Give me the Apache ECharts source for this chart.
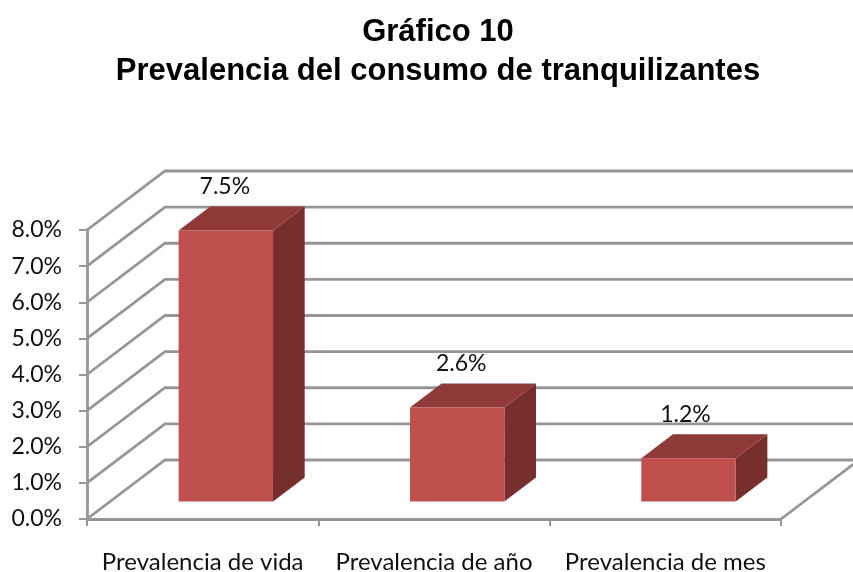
<!DOCTYPE html>
<html>
<head>
<meta charset="utf-8">
<style>html,body{margin:0;padding:0;background:#fff}#c{width:853px;height:572px}</style>
<script src="https://cdn.jsdelivr.net/npm/echarts@6/dist/echarts.min.js"></script>
</head>
<body>
<div id="c"></div>
<script>
const categories = ['Prevalencia de vida', 'Prevalencia de año', 'Prevalencia de mes'];
const values = [7.5, 2.6, 1.2];
const valueTicks = [0, 1, 2, 3, 4, 5, 6, 7, 8];

const depthX = 78, depthY = 59;
const barFront = 0.297, barBack = 0.703, barShare = 0.408;
const labelNudge = [-1, 4, -3];
const gridColor = '#969696';
const font = 'Lato, "Open Sans", sans-serif';

const chart = echarts.init(document.getElementById('c'), null, {renderer: 'canvas'});

function wallItem(params, api) {
  const v = api.value(1);
  const band = api.size([1, 0])[0];
  const left = api.coord([0, v])[0] - band / 2;
  const right = api.coord([categories.length - 1, v])[0] + band / 2;
  const y = api.coord([0, v])[1];
  const style = {stroke: gridColor, lineWidth: 2.8, fill: null};
  const children = [
    {type: 'polyline', shape: {points: [[left, y], [left + depthX, y - depthY], [right + depthX, y - depthY]]}, style}
  ];
  if (v === 0) {
    children.push({type: 'line', shape: {x1: right, y1: y, x2: right + depthX, y2: y - depthY}, style});
  }
  return {type: 'group', children};
}

function barItem(params, api) {
  const i = api.value(0), v = api.value(1);
  const band = api.size([1, 0])[0];
  const w = band * barShare;
  const base = api.coord([i, 0]);
  const top = api.coord([i, v]);
  const fx = barFront * depthX, fy = barFront * depthY;
  const dx = (barBack - barFront) * depthX, dy = (barBack - barFront) * depthY;
  const x0 = base[0] - w / 2 + fx, x1 = x0 + w;
  const yb = base[1] - fy, yt = top[1] - fy;
  return {
    type: 'group',
    children: [
      {type: 'polygon', shape: {points: [[x1, yt], [x1 + dx, yt - dy], [x1 + dx, yb - dy], [x1, yb]]},
        style: {fill: '#772F2D'}},
      {type: 'polygon', shape: {points: [[x0, yt], [x0 + dx, yt - dy], [x1 + dx, yt - dy], [x1, yt]]},
        style: {fill: '#8F3A38'}},
      {type: 'rect', shape: {x: x0, y: yt, width: w, height: yb - yt}, style: {fill: '#C0504D'}},
      {type: 'text', style: {
        x: x0 + w / 2 + labelNudge[i], y: yt - 44, text: v.toFixed(1) + '%',
        fill: '#111', font: '23px ' + font, textAlign: 'center', textVerticalAlign: 'middle'
      }}
    ]
  };
}

chart.setOption({
  animation: false,
  backgroundColor: '#fff',
  title: {
    text: 'Gráfico 10\nPrevalencia del consumo de tranquilizantes',
    left: 433, top: 8, textAlign: 'center',
    textStyle: {fontFamily: '"Liberation Sans", Arial, sans-serif', fontWeight: 'bold', fontSize: 31, lineHeight: 39, color: '#000'}
  },
  grid: {left: 87, right: 72, top: 230, bottom: 53, containLabel: false, outerBoundsMode: 'none'},
  xAxis: {
    type: 'category', data: categories, boundaryGap: true,
    axisLine: {lineStyle: {color: gridColor, width: 2.8}},
    axisTick: {show: true, length: 7, alignWithLabel: false, lineStyle: {color: gridColor, width: 2}},
    axisLabel: {interval: 0, margin: 31, fontFamily: font, fontSize: 24, color: '#111'},
    splitLine: {show: false}
  },
  yAxis: {
    type: 'value', min: 0, max: 8, interval: 1,
    axisLine: {show: true, lineStyle: {color: gridColor, width: 2.8}},
    axisTick: {show: true, length: 8, lineStyle: {color: gridColor, width: 2}},
    axisLabel: {margin: 25, padding: [4, 0, 0, 0], fontFamily: font, fontSize: 23, color: '#111', formatter: v => v.toFixed(1) + '%'},
    splitLine: {show: false}
  },
  series: [
    {type: 'custom', name: 'walls', renderItem: wallItem, data: valueTicks.map(v => [0, v]), z: 1, silent: true},
    {type: 'custom', name: 'bars', renderItem: barItem, data: values.map((v, i) => [i, v]), z: 3}
  ]
});
</script>
</body>
</html>
